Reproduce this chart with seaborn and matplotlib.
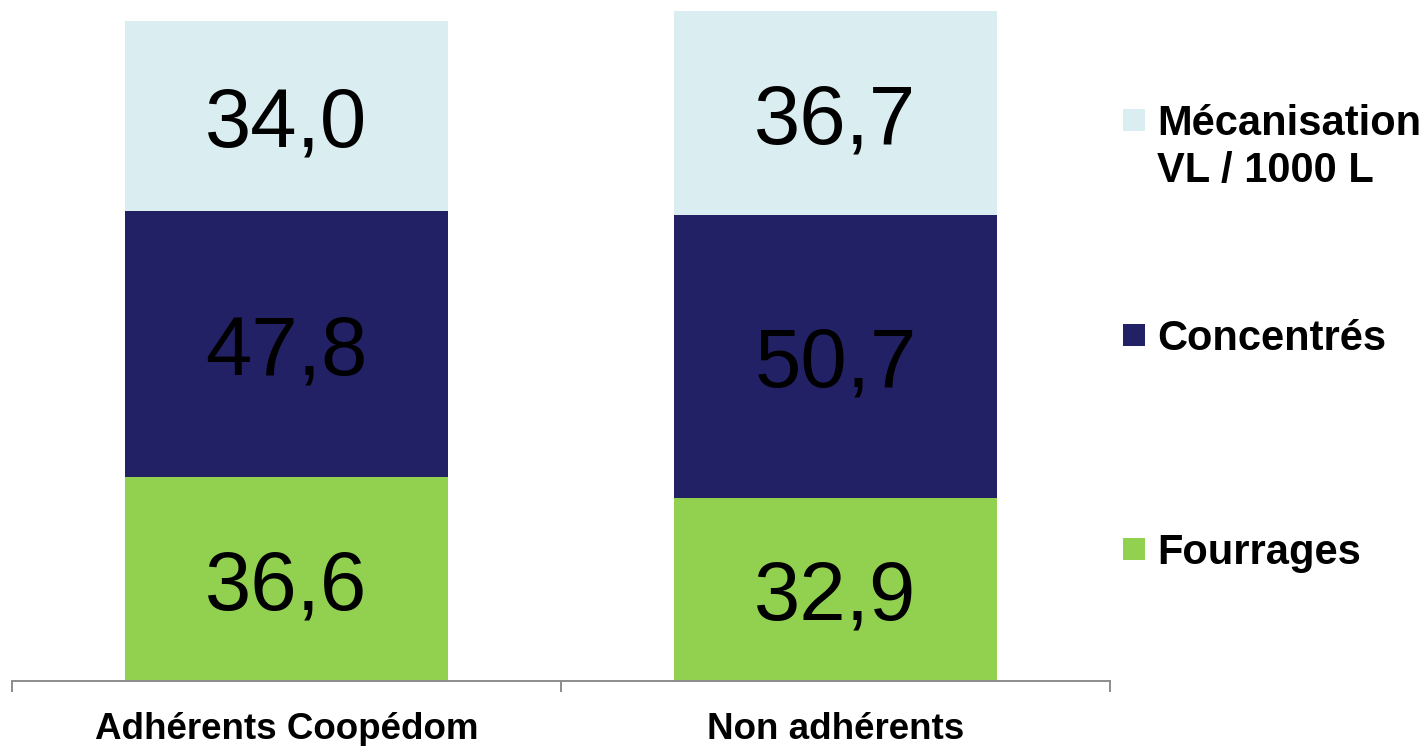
import matplotlib
matplotlib.use("Agg")
import matplotlib.pyplot as plt
from matplotlib.patches import Rectangle
import seaborn as sns
import pandas as pd
import numpy as np

categories = ["Adhérents Coopédom", "Non adhérents"]
fourrages = [36.6, 32.9]
concentres = [47.8, 50.7]
mecanisation = [34.0, 36.7]
series_labels = ["Mécanisation\nVL / 1000 L", "Concentrés", "Fourrages"]

col_meca = "#DAEDF0"
col_conc = "#232165"
col_four = "#92D050"

sns.set_theme(style="white")
plt.rcParams['font.family'] = ['Liberation Sans', 'DejaVu Sans']

f = np.array(fourrages)
c = np.array(concentres)
m = np.array(mecanisation)
df = pd.DataFrame({
    "cat": categories,
    "four": f,
    "fc": f + c,
    "tot": f + c + m,
})

W, H = 1426, 746
fig = plt.figure(figsize=(W / 100, H / 100), dpi=100)
ax = fig.add_axes([12 / W, (H - 681) / H, (1110 - 12) / W, 681 / H])

bw = 0.588
sns.barplot(data=df, x="cat", y="tot", color=col_meca, width=bw, linewidth=0, saturation=1, ax=ax)
sns.barplot(data=df, x="cat", y="fc", color=col_conc, width=bw, linewidth=0, saturation=1, ax=ax)
sns.barplot(data=df, x="cat", y="four", color=col_four, width=bw, linewidth=0, saturation=1, ax=ax)

ax.set_xlim(-0.5, 1.5)
ax.set_ylim(0, 122.2)
ax.set_xlabel("")
ax.set_ylabel("")
ax.set_yticks([])
for s in ["top", "right", "left"]:
    ax.spines[s].set_visible(False)
ax.spines["bottom"].set_color("#8C8C8C")
ax.spines["bottom"].set_linewidth(1.4)

ax.set_xticks(range(len(categories)))
ax.set_xticklabels(categories, fontsize=26.5, fontweight="bold", color="black")
ax.tick_params(axis="x", which="major", length=0, pad=22)
ax.set_xticks([-0.5, 0.5, 1.5], minor=True)
ax.tick_params(axis="x", which="minor", length=8, width=1.4, color="#8C8C8C", direction="out", bottom=True)

def fmt(v):
    return f"{v:.1f}".replace(".", ",")

for i in range(len(categories)):
    segs = [(0, f[i]), (f[i], f[i] + c[i]), (f[i] + c[i], f[i] + c[i] + m[i])]
    for lo, hi in segs:
        mid = (lo + hi) / 2
        ax.annotate(fmt(hi - lo), xy=(i, mid), xytext=(0, -22), textcoords="offset points",
                    ha="center", va="baseline", fontsize=60, color="black")

# Legend (manual, figure pixel coordinates)
def add_entry(color, ycenter_px, lines):
    sq = 22
    fig.patches.append(Rectangle(((1123) / W, (H - ycenter_px - sq / 2) / H), sq / W, sq / H,
                                 transform=fig.transFigure, facecolor=color, edgecolor="none"))
    for k, line in enumerate(lines):
        yc = ycenter_px + k * 47
        base = yc + 15
        fig.text(1157 / W, (H - base) / H, line, fontsize=30, fontweight="bold",
                 ha="left", va="baseline", color="black")

add_entry(col_meca, 120, series_labels[0].split("\n"))
add_entry(col_conc, 335, [series_labels[1]])
add_entry(col_four, 549, [series_labels[2]])

fig.savefig("out.png", dpi=100)
